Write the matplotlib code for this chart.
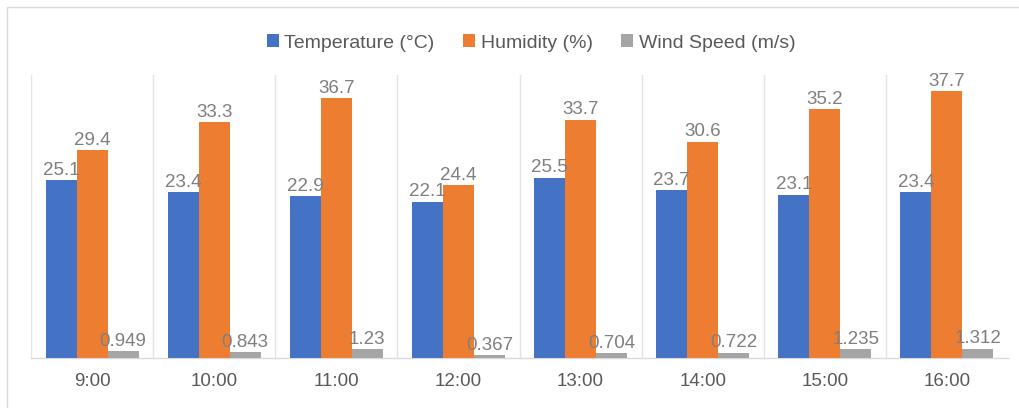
import matplotlib
matplotlib.use("Agg")
import matplotlib.pyplot as plt
from matplotlib.patches import Rectangle
import numpy as np

plt.rcParams['font.family'] = ['Liberation Sans', 'DejaVu Sans']

times = ["9:00", "10:00", "11:00", "12:00", "13:00", "14:00", "15:00", "16:00"]
temperature = [25.1, 23.4, 22.9, 22.1, 25.5, 23.7, 23.1, 23.4]
humidity = [29.4, 33.3, 36.7, 24.4, 33.7, 30.6, 35.2, 37.7]
wind_speed = [0.949, 0.843, 1.23, 0.367, 0.704, 0.722, 1.235, 1.312]

temp_labels = ["25.1", "23.4", "22.9", "22.1", "25.5", "23.7", "23.1", "23.4"]
hum_labels = ["29.4", "33.3", "36.7", "24.4", "33.7", "30.6", "35.2", "37.7"]
wind_labels = ["0.949", "0.843", "1.23", "0.367", "0.704", "0.722", "1.235", "1.312"]

series = [
    ("Temperature (°C)", temperature, temp_labels, "#4472C4"),
    ("Humidity (%)", humidity, hum_labels, "#ED7D31"),
    ("Wind Speed (m/s)", wind_speed, wind_labels, "#A5A5A5"),
]

W, H = 1019, 408
fig = plt.figure(figsize=(W / 100, H / 100), dpi=100)
fig.patch.set_facecolor("white")

# outer chart frame
fig.patches.append(Rectangle((7 / W, -0.1), 1.2, 1 - 7 / H + 0.1,
                             transform=fig.transFigure, fill=False,
                             edgecolor="#D9D9D9", linewidth=1.0))

ax = fig.add_axes([31 / W, (H - 358) / H, (1008 - 31) / W, (358 - 75) / H])
x = np.arange(len(times))
bw = 0.254

for i, (name, vals, labs, col) in enumerate(series):
    pos = x + (i - 1) * bw
    bars = ax.bar(pos, vals, width=bw, color=col, label=name, zorder=3)
    for b, lab in zip(bars, labs):
        ax.text(b.get_x() + b.get_width() / 2, b.get_height() + 0.2, lab,
                ha="center", va="bottom", fontsize=13.5, color="#7F7F7F", zorder=4)

ax.set_xlim(-0.5, len(times) - 0.5)
ax.set_ylim(0, 40)
ax.set_yticks([])
ax.set_xticks(x)
ax.set_xticklabels(times, fontsize=13.5, color="#595959")
ax.tick_params(axis="x", length=0, pad=11)

# vertical separators between categories
for xv in np.arange(-0.5, len(times) - 0.5, 1.0):
    ax.axvline(xv, color="#E3E3E3", linewidth=1.0, zorder=1)

for s in ["top", "right", "left"]:
    ax.spines[s].set_visible(False)
ax.spines["bottom"].set_color("#D9D9D9")
ax.spines["bottom"].set_linewidth(1.0)

leg = fig.legend(loc="center", bbox_to_anchor=(531 / W, 1 - 43 / H), ncol=3,
                 frameon=False, fontsize=14, handlelength=0.62, handleheight=0.62,
                 handletextpad=0.3, columnspacing=1.45)
for t in leg.get_texts():
    t.set_color("#595959")

fig.savefig("out.png", dpi=100)
